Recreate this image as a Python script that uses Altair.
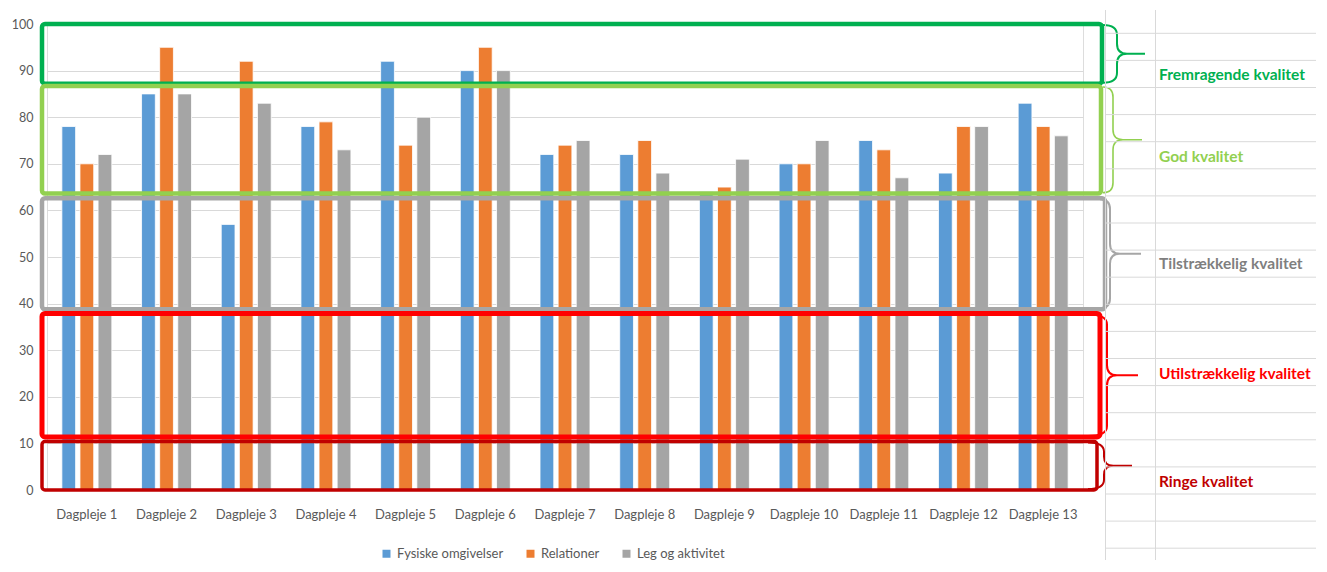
import altair as alt
import pandas as pd

# ---------------- data ----------------
categories = [f"Dagpleje {i}" for i in range(1, 14)]
series = ["Fysiske omgivelser", "Relationer", "Leg og aktivitet"]
fysiske = [78, 85, 57, 78, 92, 90, 72, 72, 64, 70, 75, 68, 83]
relationer = [70, 95, 92, 79, 74, 95, 74, 75, 65, 70, 73, 78, 78]
leg = [72, 85, 83, 73, 80, 90, 75, 68, 71, 75, 67, 78, 76]
series_colors = ["#5B9BD5", "#ED7D31", "#A5A5A5"]

band_labels = ["Fremragende kvalitet", "God kvalitet", "Tilstrækkelig kvalitet",
               "Utilstrækkelig kvalitet", "Ringe kvalitet"]
band_top = [100, 86.7, 62.6, 37.9, 10.4]
band_bottom = [87.2, 63.6, 38.8, 11.4, 0]
band_colors = ["#00B050", "#92D050", "#A6A6A6", "#FF0000", "#C00000"]
label_colors = ["#00B050", "#92D050", "#7F7F7F", "#FF0000", "#C00000"]

y_ticks = list(range(0, 101, 10))

# ---------------- layout ----------------
W, H = 1036, 466
PAD = {"left": 39, "top": 16, "right": 233, "bottom": 70}
FONT = "Lato"
box_right = [1055, 1054, 1058, 1053, 1050]          # plot-coordinate px
box_width = [4.5, 4.5, 4.5, 5, 3.5]
brace_stem = [1070, 1066, 1063, 1060, 1057]
brace_ext = [14, 10, 10, 19, 16]
brace_tip = [28, 29, 31, 31, 28]
brace_sw = [2, 1.6, 2, 2, 2]
label_x = 1112
label_y = [51, 133, 240, 350, 458]
sheet_h_lines = [9.3 + 27.1 * k for k in range(20)]
sheet_v_lines = [1058.5, 1108.5]

rows = []
for s, vals in zip(series, [fysiske, relationer, leg]):
    for c, v in zip(categories, vals):
        rows.append({"cat": c, "serie": s, "v": v})
df = pd.DataFrame(rows)

bars = alt.Chart(df).mark_bar(stroke="white", strokeWidth=0.8).encode(
    x=alt.X("cat:N", sort=categories,
            scale=alt.Scale(paddingInner=0.373, paddingOuter=0.1865),
            axis=alt.Axis(title=None, labelAngle=0, ticks=False, domainColor="#D9D9D9",
                          labelColor="#595959", labelFontSize=13, labelPadding=18,
                          labelFont=FONT)),
    xOffset=alt.XOffset("serie:N", sort=series,
                        scale=alt.Scale(paddingInner=0.24, paddingOuter=0)),
    y=alt.Y("v:Q", scale=alt.Scale(domain=[0, 100], nice=False),
            axis=alt.Axis(values=y_ticks, title=None, domain=False, ticks=False,
                          gridColor="#D9D9D9", labelColor="#595959", labelFontSize=12.5,
                          labelPadding=14, labelFont=FONT)),
    color=alt.Color("serie:N", scale=alt.Scale(domain=series, range=series_colors),
                    legend=alt.Legend(title=None, orient="none", legendX=333, legendY=523,
                                      direction="horizontal", symbolType="square",
                                      symbolSize=64, symbolStrokeWidth=0,
                                      labelFontSize=13, labelColor="#595959",
                                      labelFont=FONT, columnPadding=20, labelOffset=4)),
)

one = pd.DataFrame({"k": [0]})
layers = [bars]

# quality boxes
for i in range(5):
    bdf = pd.DataFrame({"top": [band_top[i]], "bot": [band_bottom[i]]})
    layers.append(alt.Chart(bdf).mark_rect(
        fill=None, fillOpacity=0, stroke=band_colors[i], strokeWidth=box_width[i],
        cornerRadius=3).encode(
        x=alt.value(-5), x2=alt.value(box_right[i]),
        y=alt.Y("top:Q"), y2=alt.Y2("bot:Q")))


def brace_path(h, ex, r, tl):
    def s(v):
        return f"{v / h:.4f}"
    return (f"M{s(-ex)},{s(-h)} Q0,{s(-h)} 0,{s(-h + r)} L0,{s(-r)} "
            f"Q0,0 {s(r)},0 L{s(tl)},0 M{s(r)},0 Q0,0 0,{s(r)} "
            f"L0,{s(h - r)} Q0,{s(h)} {s(-ex)},{s(h)}")


for i in range(5):
    Hpx = (band_top[i] - band_bottom[i]) * H / 100 - 2
    h = Hpx / 2
    r = min(10, h / 2.5)
    mid = (band_top[i] + band_bottom[i]) / 2
    ddf = pd.DataFrame({"mid": [mid]})
    layers.append(alt.Chart(ddf).mark_point(
        shape=brace_path(h, brace_ext[i], r, brace_tip[i]), filled=False,
        stroke=band_colors[i], strokeWidth=brace_sw[i], opacity=1).encode(
        x=alt.value(brace_stem[i]), y=alt.Y("mid:Q"), size=alt.value(Hpx * Hpx)))

for i in range(5):
    tdf = pd.DataFrame({"t": [band_labels[i]]})
    layers.append(alt.Chart(tdf).mark_text(
        align="left", baseline="middle", font=FONT, fontSize=15.5, fontWeight="bold",
        color=label_colors[i]).encode(
        x=alt.value(label_x), y=alt.value(label_y[i]), text="t:N"))

for yy in sheet_h_lines:
    layers.append(alt.Chart(one).mark_rule(color="#D9D9D9", strokeWidth=1).encode(
        x=alt.value(sheet_v_lines[0]), x2=alt.value(1300), y=alt.value(yy)))
for xx in sheet_v_lines:
    layers.append(alt.Chart(one).mark_rule(color="#D9D9D9", strokeWidth=1).encode(
        x=alt.value(xx), y=alt.value(-14), y2=alt.value(600)))

chart = alt.layer(*layers).properties(
    width=W, height=H, padding=PAD,
    autosize=alt.AutoSizeParams(type="none"),
).configure_view(stroke=None).configure(font=FONT)

chart.save("out.html", embed_options={"renderer": "svg", "actions": False})
